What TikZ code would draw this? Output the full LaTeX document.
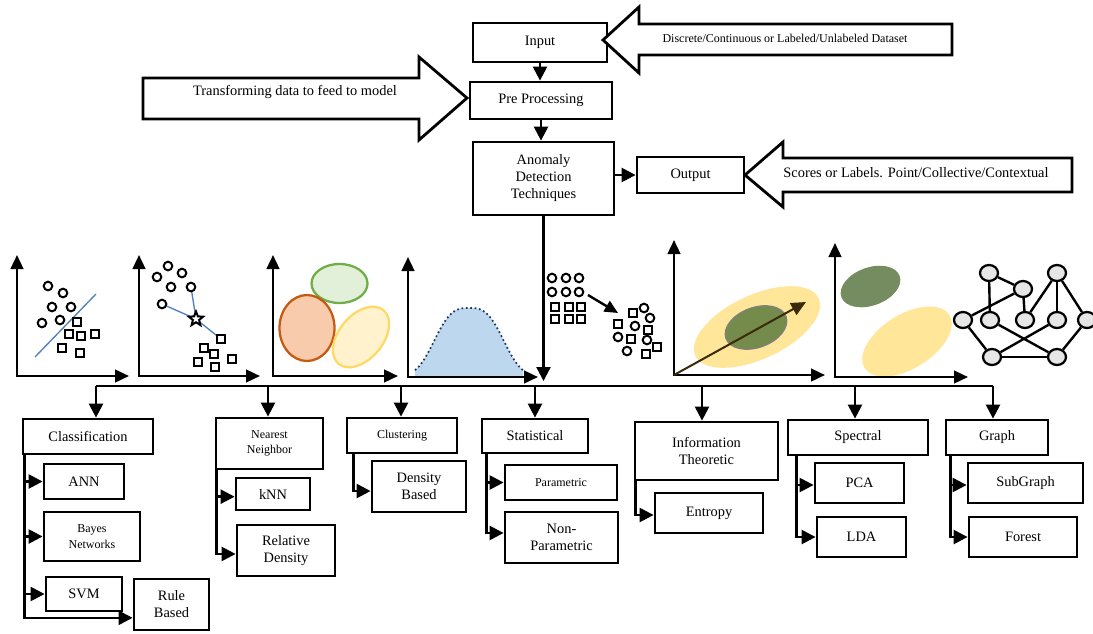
\documentclass[tikz,border=0pt]{standalone}
\usepackage{fontspec}
\setmainfont{Liberation Serif}
\usetikzlibrary{arrows.meta,shapes.geometric}
\newcommand\mainsz{\fontsize{10.8}{12.75}\selectfont}
\newcommand\smallsz{\fontsize{9}{11.5}\selectfont}
\definecolor{gborder}{HTML}{70AD47}
\definecolor{gfillc}{HTML}{E2EFD9}
\definecolor{oborder}{HTML}{C55A11}
\definecolor{ofillc}{HTML}{F8CBAD}
\definecolor{yborder}{HTML}{FFD966}
\definecolor{yfillc}{HTML}{FFF2CC}
\definecolor{ysoft}{HTML}{FFE699}
\definecolor{bellfill}{HTML}{BDD7EE}
\definecolor{bellline}{HTML}{1F3864}
\definecolor{sepline}{HTML}{4F81BD}
\definecolor{olive}{HTML}{748B4B}
\definecolor{sage}{HTML}{748C5F}
\definecolor{pcarrow}{HTML}{3A2A0A}
\definecolor{nodegrey}{HTML}{E7E6E6}
\begin{document}
\begin{tikzpicture}[x=0.75pt,y=-0.75pt,
  box/.style={draw, line width=2.1pt, inner sep=1pt, align=center, font=\mainsz},
  sbox/.style={box, font=\smallsz},
  wh/.style 2 args={minimum width=#1*0.75pt, minimum height=#2*0.75pt},
  conn/.style={line width=1.8pt, -{Triangle[length=10.5pt,width=10.5pt]}},
  bus/.style={line width=1.8pt},
  blockarrow/.style={draw, line width=2.1pt, line join=miter, fill=white},
  axes/.style={line width=1.8pt, {Triangle[length=10.5pt,width=9.5pt]}-{Triangle[length=10.5pt,width=9.5pt]}},
  mk/.style={draw, fill=white, line width=1.5pt},
  gnode/.style={ellipse, draw, fill=nodegrey, line width=1.7pt, minimum width=18*0.75pt, minimum height=16*0.75pt, inner sep=0},
  gedge/.style={line width=1.8pt}
]
\useasboundingbox[fill=white] (0,0) rectangle (1093,633);

% ---------------- top pipeline ----------------
\node[box, wh={134}{39}] (input) at (540,42.5) {Input};
\node[box, wh={142}{37}] (pre) at (541,100.5) {Pre Processing};
\node[box, wh={141}{73}] (adt) at (543.5,178.5) {Anomaly\\Detection\\Techniques};
\node[box, wh={107}{36}] (out) at (690.5,175) {Output};

\draw[conn] (input.south) -- (input.south |- pre.north);
\draw[conn] (pre.south) -- (pre.south |- adt.north);
\draw[conn] (adt.east |- out.west) -- (out.west);

% block arrows with their captions
\draw[blockarrow] (143,78) -- (419,78) -- (419,57) -- (467,98) -- (419,140) -- (419,119) -- (143,119) -- cycle;
\node[font=\mainsz] (trans) at (295,92) {Transforming data to feed to model};

\draw[blockarrow] (603,40) -- (639,7) -- (639,24) -- (952,24) -- (952,55) -- (639,55) -- (639,73) -- cycle;
\node[font=\smallsz] (dset) at (785,38) {Discrete/Continuous or Labeled/Unlabeled Dataset};

\draw[blockarrow] (745,175) -- (783,142) -- (783,158) -- (1072,158) -- (1072,192) -- (783,192) -- (783,207) -- cycle;
\node[font=\mainsz] (scores) at (916,173) {Scores or Labels. Point/Collective/Contextual};

% ---------------- illustrations ----------------
% classification
\draw[sepline, line width=1pt] (35,357) -- (96,294);
\draw[axes] (17,255) -- (17,376) -- (129,376);
\foreach \x/\y in {48/286,63/293,52/307,71/307,42/323,60/320}
  \draw[mk] (\x,\y) circle[radius=4.3];
\foreach \x/\y in {77/322,69/334,81/336,95/334,62/348,80/353}
  \draw[mk] (\x,\y) ++(-3.8,-3.8) rectangle ++(7.6,7.6);

% nearest neighbour
\draw[axes] (139,255) -- (139,376) -- (260,376);
\coordinate (qc) at (196,319);
\draw[sepline, line width=1pt] (qc) -- (191,287);
\draw[sepline, line width=1pt] (qc) -- (162,304);
\draw[sepline, line width=1pt] (qc) -- (221,339);
\node[star, star points=5, star point ratio=2.3, draw, fill=white, line width=1.5pt, minimum size=15*0.75pt, inner sep=0] (qstar) at (qc) {};
\foreach \x/\y in {168/266,157/277,182/273,171/287,191/287,162/304}
  \draw[mk] (\x,\y) circle[radius=4.3];
\foreach \x/\y in {221/339,204/348,214/354,198/362,232/359,215/367}
  \draw[mk] (\x,\y) ++(-3.8,-3.8) rectangle ++(7.6,7.6);

% clustering
\draw[axes] (273,255) -- (273,376) -- (398,376);
\draw[draw=gborder, fill=gfillc, line width=1.7pt] (339.5,283.5) ellipse[x radius=28, y radius=19.5];
\draw[draw=oborder, fill=ofillc, line width=1.7pt] (307,328) ellipse[x radius=27.5, y radius=33];
\draw[draw=yborder, fill=yfillc, line width=1.7pt, rotate around={50:(361,337)}] (361,337) ellipse[x radius=35, y radius=22];

% statistical
\fill[bellfill] (415,376) -- plot[domain=415:523, samples=60, smooth] (\x,{376-68*exp(-(abs((\x-469)/40))^3)}) -- (523,376) -- cycle;
\draw[bellline, line width=1.3pt, dotted] plot[domain=415:523, samples=60, smooth] (\x,{376-68*exp(-(abs((\x-469)/40))^3)});
\draw[axes] (408,257) -- (408,377) -- (538,377);

% information theoretic
\foreach \x in {552,566,579}
  \foreach \y in {278,292}
    \draw[mk] (\x,\y) circle[radius=4.3];
\foreach \x in {555,569,581}
  \foreach \y in {307,319}
    \draw[mk] (\x,\y) ++(-3.8,-3.8) rectangle ++(7.6,7.6);
\draw[line width=1.8pt, -{Triangle[length=10pt,width=9pt]}] (588,295) -- (618,313);
\foreach \x/\y in {644/308,650/318,635/326,618/337,647/340,627/351}
  \draw[mk] (\x,\y) circle[radius=4.3];
\foreach \x/\y in {633/313,618/324,648/330,631/339,657/347,646/354}
  \draw[mk] (\x,\y) ++(-3.8,-3.8) rectangle ++(7.6,7.6);

% spectral (principal direction)
\fill[ysoft, rotate around={25:(757,327)}] (757,327) ellipse[x radius=68, y radius=32];
\draw[fill=olive, draw=gray, line width=0.9pt, rotate around={20:(756,327.5)}] (756,327.5) ellipse[x radius=32, y radius=20];
\draw[axes] (674,240) -- (674,375) -- (825,375);
\draw[pcarrow, line width=1.5pt, -{Triangle[length=11pt,width=10pt]}] (674,375) -- (806,302);

% spectral (projection)
\fill[sage, rotate around={20:(870.5,286.5)}] (870.5,286.5) ellipse[x radius=31, y radius=19];
\fill[ysoft, rotate around={32:(907,341.5)}] (907,341.5) ellipse[x radius=50, y radius=27];
\draw[axes] (835,243) -- (835,377) -- (968,377);

% graph
\node[gnode] (gA) at (989,273) {};
\node[gnode] (gB) at (1023,289) {};
\node[gnode] (gC) at (1057,273) {};
\node[gnode] (gD) at (963,320) {};
\node[gnode] (gE) at (990,320) {};
\node[gnode] (gF) at (1025,320) {};
\node[gnode] (gG) at (1057,320) {};
\node[gnode] (gH) at (1087,320) {};
\node[gnode] (gI) at (992,357) {};
\node[gnode] (gJ) at (1057,357) {};
\foreach \a/\b in {gA/gE,gA/gB,gB/gF,gB/gD,gC/gF,gC/gG,gC/gH,gD/gI,gE/gJ,gG/gI,gH/gJ,gI/gJ}
  \draw[gedge] (\a) -- (\b);

% ---------------- bus and categories ----------------
\coordinate (adtend) at (543.5,381);
\draw[conn] (adt.south) -- (adtend);

\coordinate (d1) at (96,386);
\coordinate (d2) at (268,386);
\coordinate (d3) at (401,386);
\coordinate (d4) at (535,386);
\coordinate (d5) at (702,386);
\coordinate (d6) at (855,386);
\coordinate (d7) at (993,386);
\draw[bus] (d1) -- (d7);

\node[box, wh={130}{35}] (cls) at (88,436.5) {Classification};
\node[sbox, wh={107}{51}] (nn) at (269.5,443.5) {Nearest\\Neighbor};
\node[sbox, wh={110}{35}] (clu) at (402,435.5) {Clustering};
\node[box, wh={106}{34}] (stat) at (535,436) {Statistical};
\node[box, wh={143}{58}] (info) at (706.5,451) {Information\\Theoretic};
\node[box, wh={140}{35}] (spec) at (858,437.5) {Spectral};
\node[box, wh={102}{35}] (graph) at (997,437.5) {Graph};

\draw[conn] (d1) -- (d1 |- cls.north);
\draw[conn] (d2) -- (d2 |- nn.north);
\draw[conn] (d3) -- (d3 |- clu.north);
\draw[conn] (d4) -- (d4 |- stat.north);
\draw[conn] (d5) -- (d5 |- info.north);
\draw[conn] (d6) -- (d6 |- spec.north);
\draw[conn] (d7) -- (d7 |- graph.north);

% classification techniques
\node[box, wh={80}{35}] (ann) at (84,481.5) {ANN};
\node[sbox, wh={96}{49}] (bayes) at (92,536.5) {Bayes\\Networks};
\node[box, wh={76}{34}] (svm) at (84,594) {SVM};
\node[box, wh={75}{51}] (rule) at (171.5,604.5) {Rule\\Based};
\draw[conn] ([xshift=2.25pt]cls.south west) |- (ann.west);
\draw[conn] ([xshift=2.25pt]cls.south west) |- (bayes.west);
\draw[conn] ([xshift=2.25pt]cls.south west) |- (svm.west);
\draw[conn] ([xshift=2.25pt]cls.south west) |- ([yshift=-10pt]rule.west);

% nearest neighbour techniques
\node[box, wh={74}{32}] (knn) at (273,494) {kNN};
\node[box, wh={98}{51}] (rd) at (286,550.5) {Relative\\Density};
\draw[conn] ([xshift=1.5pt]nn.south west) |- ([yshift=-2pt]knn.west);
\draw[conn] ([xshift=1.5pt]nn.south west) |- ([yshift=-2.6pt]rd.west);

% clustering techniques
\node[box, wh={94}{51}] (db) at (419,486.5) {Density\\Based};
\draw[conn] ([xshift=6pt]clu.south west) |- ([yshift=-3.4pt]db.west);

% statistical techniques
\node[sbox, wh={112}{35}] (par) at (561,482.5) {Parametric};
\node[box, wh={113}{51}] (np) at (561.5,537.5) {Non-\\Parametric};
\draw[conn] ([xshift=4.5pt]stat.south west) |- (par.west);
\draw[conn] ([xshift=4.5pt]stat.south west) |- ([yshift=3.4pt]np.west);

% information theoretic techniques
\node[box, wh={108}{40}] (ent) at (709,513) {Entropy};
\draw[conn] ([xshift=1.5pt]info.south west) |- ([yshift=-1.5pt]ent.west);

% spectral techniques
\node[box, wh={89}{40}] (pca) at (859.5,483) {PCA};
\node[box, wh={89}{40}] (lda) at (861.5,537) {LDA};
\draw[conn] ([xshift=7.5pt]spec.south west) |- ([yshift=-1.5pt]pca.west);
\draw[conn] ([xshift=7.5pt]spec.south west) |- (lda.west);

% graph techniques
\node[box, wh={115}{40}] (sub) at (1025.5,483) {SubGraph};
\node[box, wh={108}{40}] (forest) at (1023,537) {Forest};
\draw[conn] ([xshift=4.5pt]graph.south west) |- ([yshift=-1.5pt]sub.west);
\draw[conn] ([xshift=4.5pt]graph.south west) |- (forest.west);
\end{tikzpicture}
\end{document}
